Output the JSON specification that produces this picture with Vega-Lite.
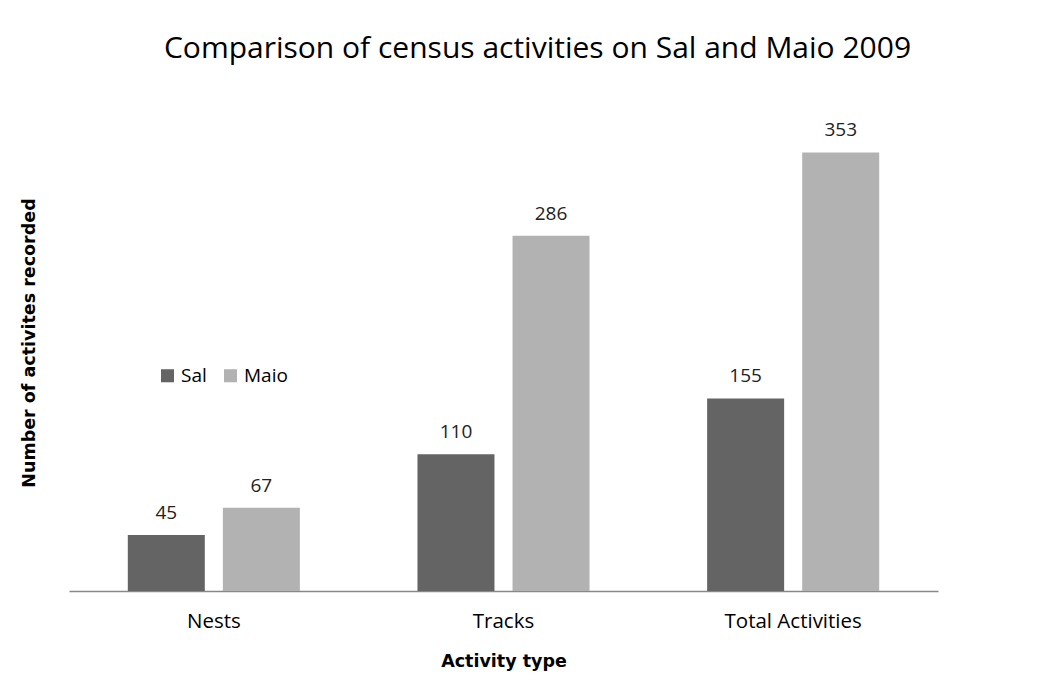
{
  "$schema": "https://vega.github.io/schema/vega-lite/v6.json",
  "autosize": "none",
  "padding": {"left": 69, "top": 94, "right": 122, "bottom": 109},
  "width": 869,
  "height": 497,
  "background": "white",
  "title": {
    "text": "Comparison of census activities on Sal and Maio 2009",
    "font": "Open Sans",
    "fontSize": 30,
    "fontWeight": "normal",
    "color": "#000000",
    "anchor": "middle",
    "dx": 34,
    "offset": 30
  },
  "data": {
    "values": [
      {"activity": "Nests", "island": "Sal", "count": 45},
      {"activity": "Nests", "island": "Maio", "count": 67},
      {"activity": "Tracks", "island": "Sal", "count": 110},
      {"activity": "Tracks", "island": "Maio", "count": 286},
      {"activity": "Total Activities", "island": "Sal", "count": 155},
      {"activity": "Total Activities", "island": "Maio", "count": 353}
    ]
  },
  "encoding": {
    "x": {
      "field": "activity",
      "type": "nominal",
      "sort": ["Nests", "Tracks", "Total Activities"],
      "scale": {"paddingInner": 0.406, "paddingOuter": 0.203},
      "axis": {
        "title": "Activity type",
        "titleFont": "DejaVu Sans",
        "titleFontSize": 17.5,
        "titleFontWeight": "bold",
        "titleColor": "#000000",
        "titlePadding": 21,
        "labelFont": "Open Sans",
        "labelFontSize": 20.5,
        "labelColor": "#000000",
        "labelAngle": 0,
        "labelPadding": 20,
        "ticks": false,
        "domainColor": "#888888",
        "domainWidth": 1.5
      }
    },
    "xOffset": {
      "field": "island",
      "type": "nominal",
      "sort": ["Sal", "Maio"],
      "scale": {"paddingInner": 0.19, "paddingOuter": 0}
    },
    "y": {
      "field": "count",
      "type": "quantitative",
      "scale": {"domain": [0, 400]},
      "axis": {
        "title": "Number of activites recorded",
        "titleFont": "DejaVu Sans",
        "titleFontSize": 17.5,
        "titleFontWeight": "bold",
        "titleColor": "#000000",
        "titlePadding": 31,
        "labels": false,
        "ticks": false,
        "domain": false,
        "grid": false
      }
    }
  },
  "layer": [
    {
      "mark": {"type": "bar"},
      "encoding": {
        "color": {
          "field": "island",
          "type": "nominal",
          "sort": ["Sal", "Maio"],
          "scale": {"domain": ["Sal", "Maio"], "range": ["#646464", "#b2b2b2"]},
          "legend": {
            "title": null,
            "orient": "none",
            "legendX": 89,
            "legendY": 272,
            "direction": "horizontal",
            "symbolType": "square",
            "symbolSize": 170,
            "symbolStrokeWidth": 0,
            "labelFont": "Open Sans",
            "labelFontSize": 19,
            "labelColor": "#000000",
            "columnPadding": 14,
            "labelOffset": 4
          }
        }
      }
    },
    {
      "mark": {"type": "text", "dy": -22, "font": "Open Sans", "fontSize": 19, "color": "#222222"},
      "encoding": {
        "text": {"field": "count", "type": "quantitative"}
      }
    }
  ],
  "config": {
    "view": {"stroke": null}
  }
}
